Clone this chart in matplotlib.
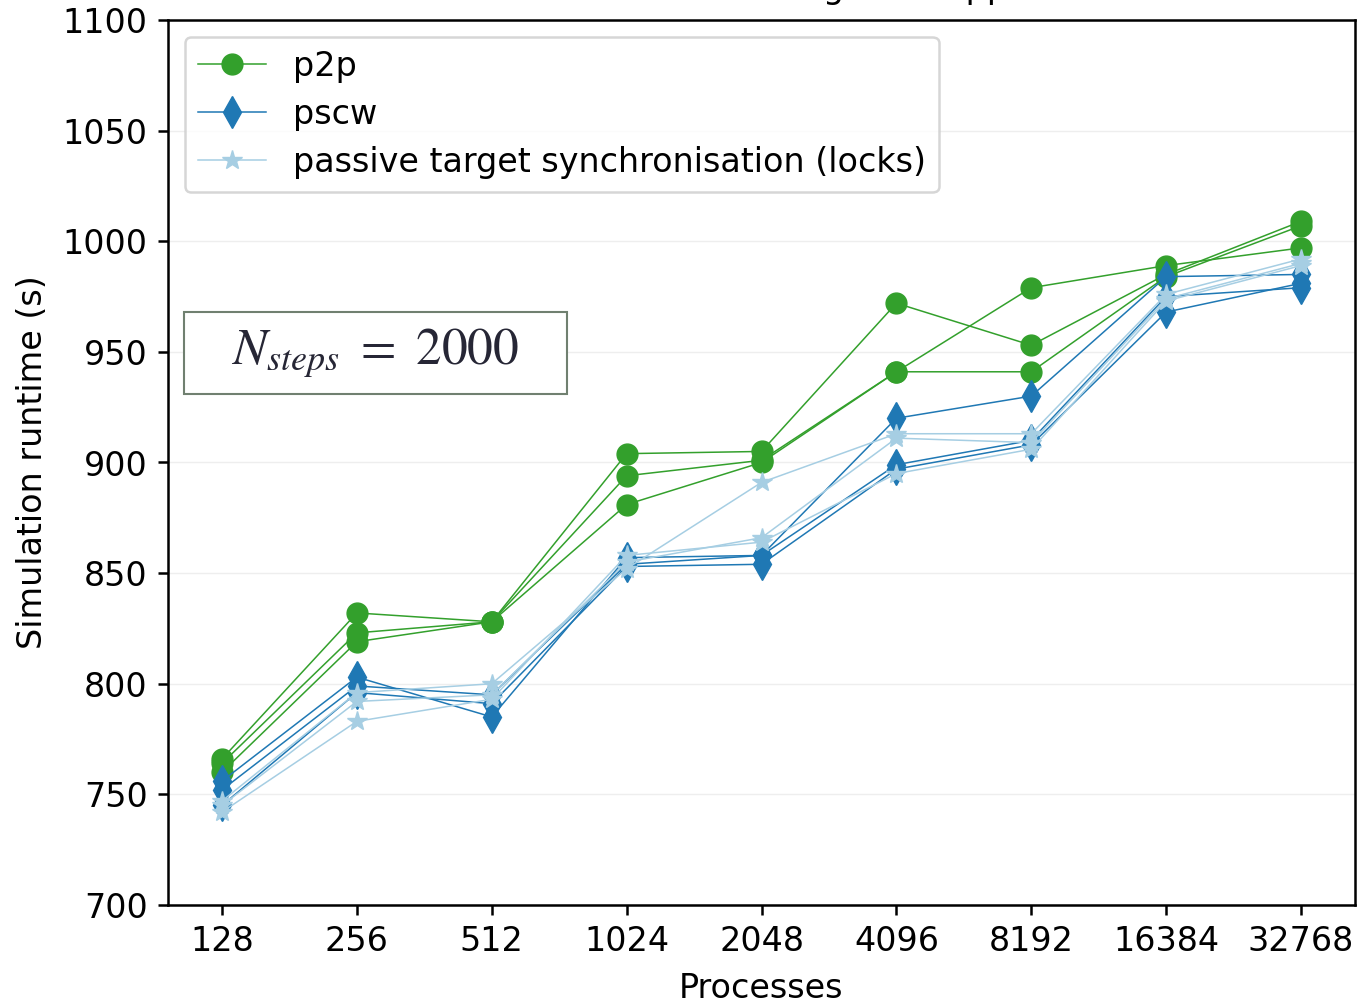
import matplotlib
matplotlib.use("Agg")
import numpy as np
import matplotlib.pyplot as plt
from matplotlib.patches import Rectangle

# process counts on the x axis
procs = ["128", "256", "512", "1024", "2048", "4096", "8192", "16384", "32768"]

# three runs per method (seconds)
p2p_runs = [
    [766, 832, 828, 904, 905, 972, 953, 985, 1009],
    [764, 823, 828, 894, 901, 941, 979, 989, 997],
    [760, 819, 828, 881, 900, 941, 941, 984, 1007],
]
pscw_runs = [
    [756, 803, 785, 857, 858, 920, 930, 984, 985],
    [752, 799, 795, 854, 858, 899, 910, 975, 979],
    [745, 796, 791, 853, 854, 897, 908, 968, 981],
]
locks_runs = [
    [747, 796, 800, 852, 891, 913, 913, 976, 992],
    [745, 792, 795, 855, 866, 911, 909, 974, 990],
    [742, 783, 793, 858, 864, 895, 906, 973, 989],
]

names = ["p2p", "pscw", "passive target synchronisation (locks)"]
colors = ["#33a02c", "#1f78b4", "#a6cee3"]
markers = ["o", "d", "*"]

fs = 24
plt.rcParams["font.family"] = "DejaVu Sans"
plt.rcParams["mathtext.fontset"] = "stix"

fig = plt.figure(figsize=(13.59, 10.05), dpi=100)
ax = fig.add_subplot(111)
fig.subplots_adjust(left=168/1359, right=1355/1359, top=1-20/1005, bottom=1-905/1005)

x = np.arange(len(procs))
for runs, name, c, m in zip([p2p_runs, pscw_runs, locks_runs], names, colors, markers):
    for i, r in enumerate(runs):
        ax.plot(x, r, color=c, marker=m, markersize=15 if m != "d" else 16,
                linewidth=1.1, label=name if i == 0 else None)

ax.set_xlim(-0.4, 8.4)
ax.set_ylim(700, 1100)
ax.set_xticks(x)
ax.set_xticklabels(procs)
ax.set_yticks(np.arange(700, 1101, 50))
ax.tick_params(labelsize=fs, width=1.8, length=7.5, pad=7, direction="out")
ax.yaxis.grid(True, color="#eeeeee", linewidth=1)
ax.set_axisbelow(True)
for s in ax.spines.values():
    s.set_linewidth(1.8)

ax.set_xlabel("Processes", fontsize=fs, labelpad=10)
ax.set_ylabel("Simulation runtime (s)", fontsize=fs, labelpad=10)

ax.set_title("Halo communication timing in all approaches", fontsize=fs, pad=15.5)

leg = ax.legend(loc="upper left", fontsize=fs, borderpad=0.4, handlelength=2.04,
                labelspacing=0.45, fancybox=True, framealpha=0.8)
leg.get_frame().set_linewidth(1.8)

# parameter box
ax.add_patch(Rectangle((0.0135, 0.5774), 0.3227, 0.0927, transform=ax.transAxes,
                       facecolor="white", edgecolor="#708070", linewidth=1.5, zorder=4))
ax.text(0.1748, 0.6237, r"$N_{steps}\ =\ 2000$", transform=ax.transAxes, fontsize=37,
        ha="center", va="center", color="#262635", zorder=5)

fig.savefig("out.png", dpi=100)
